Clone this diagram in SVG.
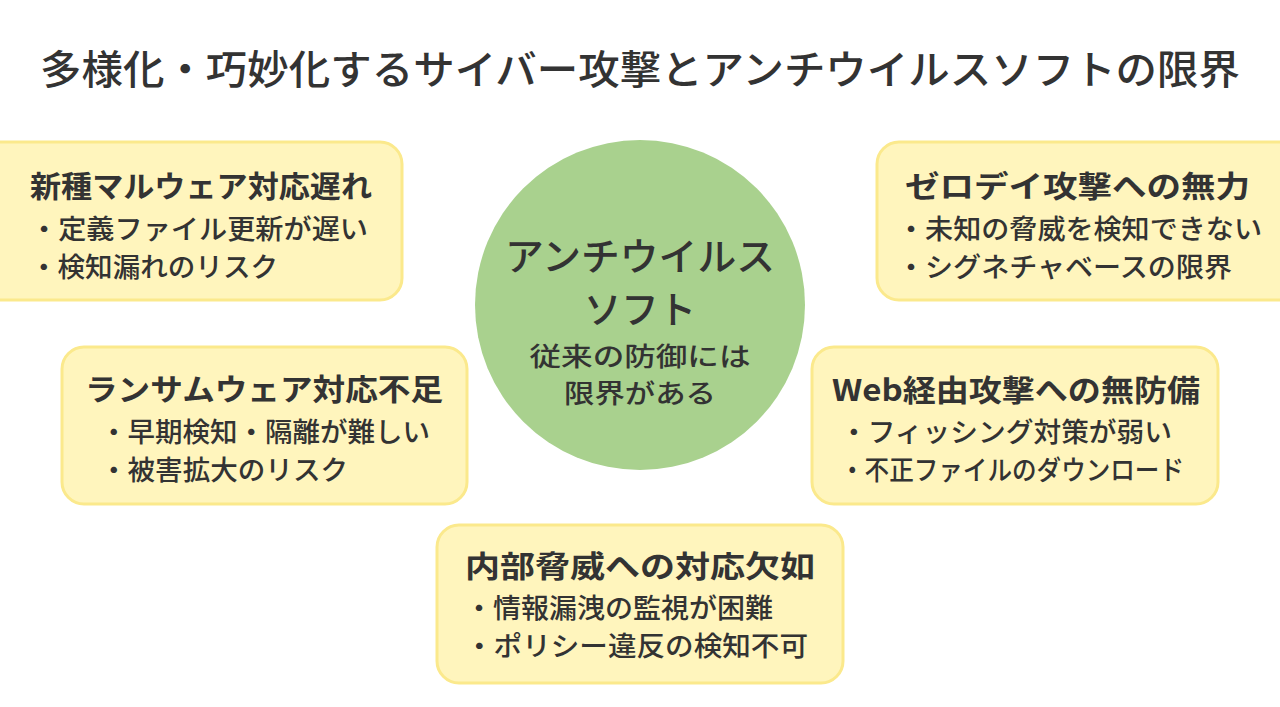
<svg xmlns="http://www.w3.org/2000/svg" width="1280" height="707" viewBox="0 0 1280 707">
<style>
text{font-family:"Noto Sans CJK JP","Noto Sans",sans-serif;fill:#333}
.box{fill:#fff5bd;stroke:#fbe98c;stroke-width:3}
.h{font-size:30px;font-weight:bold}
.l{font-size:27px;font-weight:500}
.c{text-anchor:middle;font-weight:500}
</style>
<rect width="1280" height="707" fill="#fff"/>
<text x="40" y="84" font-size="40" font-weight="500" textLength="1200" lengthAdjust="spacingAndGlyphs">多様化・巧妙化するサイバー攻撃とアンチウイルスソフトの限界</text>
<g id="center"><circle cx="640" cy="305" r="165" fill="#a9d18e"/>
<text class="c" x="640" y="270" font-size="38" textLength="270" lengthAdjust="spacingAndGlyphs">アンチウイルス</text>
<text class="c" x="640" y="323" font-size="38" textLength="112" lengthAdjust="spacingAndGlyphs">ソフト</text>
<text class="c" x="640" y="366" font-size="26" textLength="221" lengthAdjust="spacingAndGlyphs">従来の防御には</text>
<text class="c" x="640" y="403" font-size="26" textLength="152" lengthAdjust="spacingAndGlyphs">限界がある</text></g>
<g id="connectors"/>
<g id="n1"><rect class="box" x="-20" y="142" width="422" height="158" rx="22"/>
<text class="h" x="30" y="197" textLength="342" lengthAdjust="spacingAndGlyphs">新種マルウェア対応遅れ</text>
<text class="l" x="30" y="239" textLength="338" lengthAdjust="spacingAndGlyphs">・定義ファイル更新が遅い</text>
<text class="l" x="30" y="277" textLength="248" lengthAdjust="spacingAndGlyphs">・検知漏れのリスク</text></g>
<g id="n2"><rect class="box" x="62" y="347" width="405" height="157" rx="22"/>
<text class="h" x="85" y="400" textLength="358" lengthAdjust="spacingAndGlyphs">ランサムウェア対応不足</text>
<text class="l" x="100" y="442" textLength="330" lengthAdjust="spacingAndGlyphs">・早期検知・隔離が難しい</text>
<text class="l" x="100" y="480" textLength="248" lengthAdjust="spacingAndGlyphs">・被害拡大のリスク</text></g>
<g id="n3"><rect class="box" x="877" y="142" width="423" height="158" rx="22"/>
<text class="h" x="905" y="197" textLength="345" lengthAdjust="spacingAndGlyphs">ゼロデイ攻撃への無力</text>
<text class="l" x="897" y="239" textLength="365" lengthAdjust="spacingAndGlyphs">・未知の脅威を検知できない</text>
<text class="l" x="897" y="277" textLength="335" lengthAdjust="spacingAndGlyphs">・シグネチャベースの限界</text></g>
<g id="n4"><rect class="box" x="812" y="347" width="406" height="157" rx="22"/>
<text class="h" x="832" y="401" textLength="368" lengthAdjust="spacingAndGlyphs">Web経由攻撃への無防備</text>
<text class="l" x="840" y="442" textLength="332" lengthAdjust="spacingAndGlyphs">・フィッシング対策が弱い</text>
<text class="l" x="840" y="480" textLength="344" lengthAdjust="spacingAndGlyphs">・不正ファイルのダウンロード</text></g>
<g id="n5"><rect class="box" x="437" y="525" width="406" height="158" rx="22"/>
<text class="h" x="465" y="577" textLength="350" lengthAdjust="spacingAndGlyphs">内部脅威への対応欠如</text>
<text class="l" x="465" y="618" textLength="308" lengthAdjust="spacingAndGlyphs">・情報漏洩の監視が困難</text>
<text class="l" x="465" y="656" textLength="343" lengthAdjust="spacingAndGlyphs">・ポリシー違反の検知不可</text></g>
</svg>
